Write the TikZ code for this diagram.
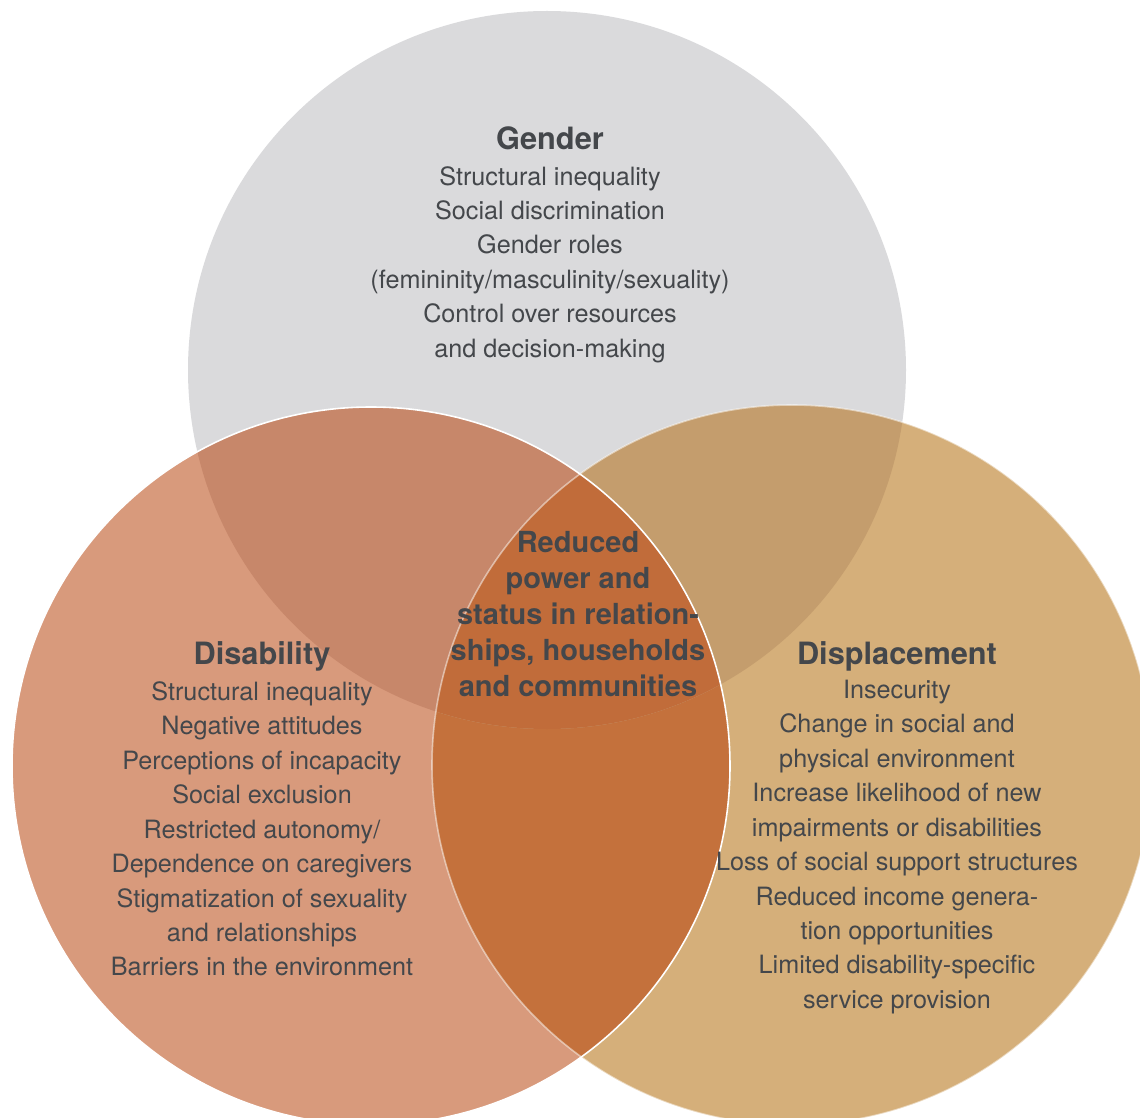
\documentclass[tikz,border=0pt]{standalone}
\usepackage{fontspec}
\setmainfont{TeX Gyre Heros}
\usetikzlibrary{positioning}
\definecolor{gendergray}{RGB}{218,218,220}
\definecolor{disabcol}{RGB}{216,154,124}
\definecolor{displcol}{RGB}{213,175,122}
\definecolor{gdcol}{RGB}{199,135,106}
\definecolor{gpcol}{RGB}{196,157,109}
\definecolor{dpcol}{RGB}{196,113,60}
\definecolor{triplecol}{RGB}{193,108,58}
\definecolor{textgray}{RGB}{68,71,75}

\begin{document}
\begin{tikzpicture}[x=0.02cm, y=0.02cm,
    body/.style={align=center, text=textgray, font=\fontsize{14.35}{19.6}\selectfont},
    heading/.style={text=textgray, font=\fontsize{17.5}{21}\selectfont\bfseries},
    core/.style={align=center, text=textgray, font=\fontsize{16.5}{20.4}\selectfont\bfseries},
    rim/.style={white, line width=0.9pt}]
    \tikzstyle{every node}+=[inner sep=0pt]
    \useasboundingbox (0,0) rectangle (1140,-1118);
    % circle centres
    \coordinate (gc) at (547,-370);
    \coordinate (dc) at (371,-766);
    \coordinate (pc) at (792,-765);
    % base circles
    \fill [gendergray] (gc) circle (359);
    \fill [disabcol] (dc) circle (359);
    \fill [displcol] (pc) circle (360);
    % overlaps
    \begin{scope}
        \clip (dc) circle (359);
        \fill [dpcol] (pc) circle (360);
    \end{scope}
    \begin{scope}
        \clip (gc) circle (359);
        \fill [gdcol] (dc) circle (359);
        \fill [gpcol] (pc) circle (360);
        \clip (dc) circle (359);
        \fill [triplecol] (pc) circle (360);
    \end{scope}
    \draw [rim, opacity=0.5] (pc) circle (360);
    \draw [rim] (dc) circle (359);
    % texts
    \node [heading] (gtitle) at (550,-138) {Gender};
    \node [body] (gbody) at (550,-264.5) {Structural inequality\\Social discrimination\\Gender roles\\(femininity/masculinity/sexuality)\\Control over resources\\and decision-making};
    \node [heading] (dtitle) at (262,-656) {Disability};
    \node [body] (dbody) at (262,-829) {Structural inequality\\Negative attitudes\\Perceptions of incapacity\\Social exclusion\\Restricted autonomy/\\Dependence on caregivers\\Stigmatization of sexuality\\and relationships\\Barriers in the environment};
    \node [heading] (ptitle) at (897,-656) {Displacement};
    \node [body] (pbody) at (897,-847) {Insecurity\\Change in social and\\physical environment\\Increase likelihood of new\\impairments or disabilities\\Loss of social support structures\\Reduced income genera-\\tion opportunities\\Limited disability-specific\\service provision};
    \node [core] (power) at (578,-614) {Reduced\\power and\\status in relation-\\ships, households\\and communities};
\end{tikzpicture}
\end{document}
